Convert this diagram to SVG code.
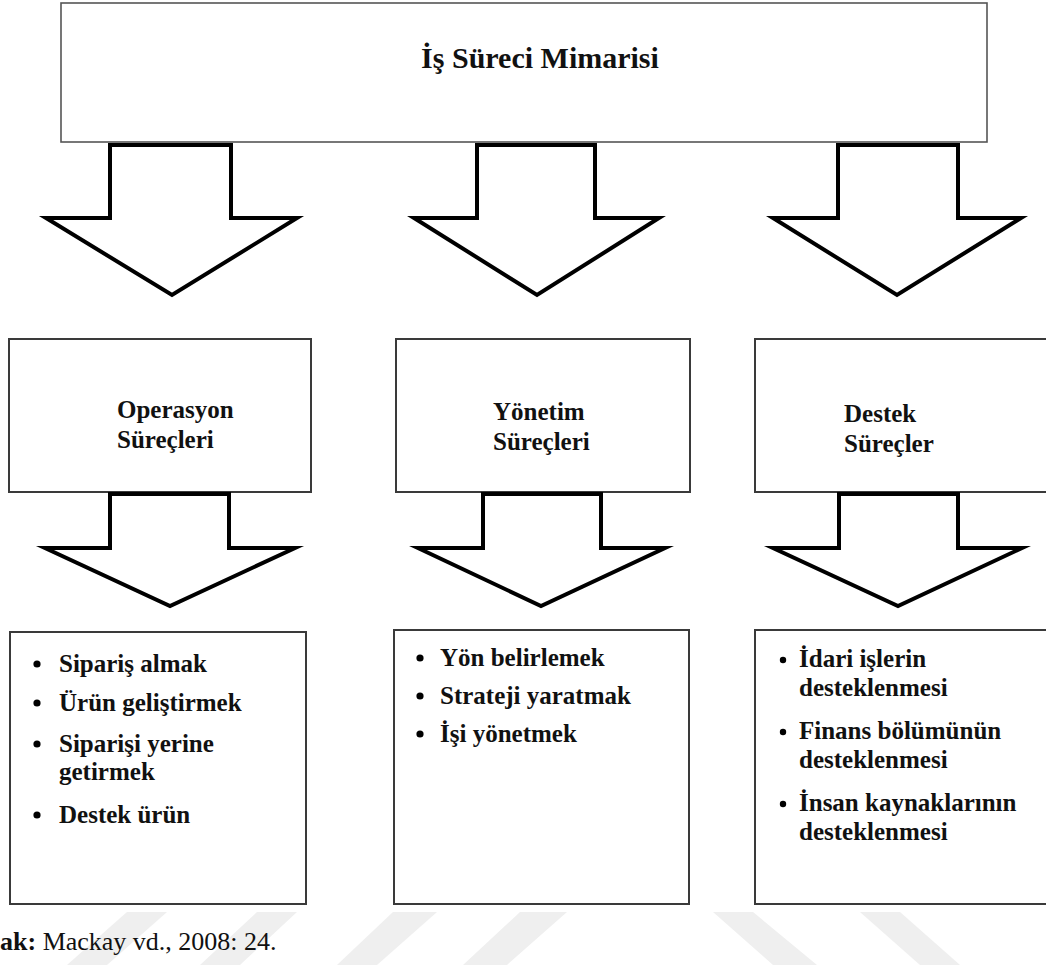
<svg xmlns="http://www.w3.org/2000/svg" width="1046" height="969" viewBox="0 0 1046 969">
  <style>
    .box { fill: #ffffff; stroke: #3a3a3a; stroke-width: 2; }
    .top { fill: #ffffff; stroke: #555555; stroke-width: 1.6; }
    .arrow { fill: #ffffff; stroke: #000000; stroke-width: 4; stroke-linejoin: miter; stroke-miterlimit: 10; }
    .t { font-family: "Liberation Serif", "Times New Roman", serif; font-weight: bold; fill: #111111; }
    .title { font-size: 30px; }
    .head { font-size: 25px; }
    .item { font-size: 25px; }
    .src { font-family: "Liberation Serif", "Times New Roman", serif; font-size: 26px; fill: #111111; }
    .dot { fill: #000000; }
    .mark { fill: #efefef; }
  </style>

  <rect width="1046" height="969" fill="#ffffff"/>

  <!-- light background stripes along the bottom edge -->
  <g id="stripes">
    <polygon class="mark" points="127,912 167,912 107,965 67,965"/>
    <polygon class="mark" points="257,912 297,912 240,965 200,965"/>
    <polygon class="mark" points="393,912 437,912 377,965 337,965"/>
    <polygon class="mark" points="520,912 567,912 507,965 463,965"/>
    <polygon class="mark" points="713,912 753,912 817,965 773,965"/>
    <polygon class="mark" points="860,912 900,912 960,965 920,965"/>
  </g>

  <!-- root node -->
  <g id="node-architecture">
    <rect class="top" x="61" y="3" width="926" height="139"/>
    <text class="t title" x="540" y="68" text-anchor="middle">İş Süreci Mimarisi</text>
  </g>

  <!-- process category nodes -->
  <g id="node-operations">
    <rect class="box" x="9" y="339" width="302" height="153"/>
    <text class="t head" x="117" y="418">Operasyon</text>
    <text class="t head" x="117" y="448">Süreçleri</text>
  </g>
  <g id="node-management">
    <rect class="box" x="396" y="339" width="294" height="153"/>
    <text class="t head" x="493" y="420">Yönetim</text>
    <text class="t head" x="493" y="450">Süreçleri</text>
  </g>
  <g id="node-support">
    <rect class="box" x="755" y="339" width="300" height="153"/>
    <text class="t head" x="844" y="422">Destek</text>
    <text class="t head" x="844" y="452">Süreçler</text>
  </g>

  <!-- activity list nodes -->
  <g id="node-operations-list">
    <rect class="box" x="10" y="632" width="296" height="272"/>
    <circle class="dot" cx="37" cy="664" r="3.6"/>
    <text class="t item" x="59" y="672">Sipariş almak</text>
    <circle class="dot" cx="37" cy="703" r="3.6"/>
    <text class="t item" x="59" y="711">Ürün geliştirmek</text>
    <circle class="dot" cx="37" cy="744" r="3.6"/>
    <text class="t item" x="59" y="752">Siparişi yerine</text>
    <text class="t item" x="59" y="780">getirmek</text>
    <circle class="dot" cx="37" cy="815" r="3.6"/>
    <text class="t item" x="59" y="823">Destek ürün</text>
  </g>
  <g id="node-management-list">
    <rect class="box" x="394" y="630" width="295" height="274"/>
    <circle class="dot" cx="420" cy="658" r="3.6"/>
    <text class="t item" x="440" y="666">Yön belirlemek</text>
    <circle class="dot" cx="420" cy="696" r="3.6"/>
    <text class="t item" x="440" y="704">Strateji yaratmak</text>
    <circle class="dot" cx="420" cy="734" r="3.6"/>
    <text class="t item" x="440" y="742">İşi yönetmek</text>
  </g>
  <g id="node-support-list">
    <rect class="box" x="755" y="630" width="300" height="274"/>
    <circle class="dot" cx="783" cy="660" r="3.2"/>
    <text class="t item" x="799" y="667">İdari işlerin</text>
    <text class="t item" x="799" y="696">desteklenmesi</text>
    <circle class="dot" cx="783" cy="732" r="3.2"/>
    <text class="t item" x="799" y="739">Finans bölümünün</text>
    <text class="t item" x="799" y="768">desteklenmesi</text>
    <circle class="dot" cx="783" cy="804" r="3.2"/>
    <text class="t item" x="799" y="811">İnsan kaynaklarının</text>
    <text class="t item" x="799" y="840">desteklenmesi</text>
  </g>

  <!-- block arrows linking the levels -->
  <g id="connectors">
    <path class="arrow" d="M110,145 H231 V218 H297 L172,295 L46,218 H110 Z"/>
    <path class="arrow" d="M477,145 H595 V218 H659 L537,295 L414,218 H477 Z"/>
    <path class="arrow" d="M838,145 H958 V218 H1021 L897,295 L773,218 H838 Z"/>
    <path class="arrow" d="M110,494 H229 V548 H295 L170,606 L45,548 H110 Z"/>
    <path class="arrow" d="M483,494 H601 V548 H665 L541,606 L418,548 H483 Z"/>
    <path class="arrow" d="M839,494 H958 V548 H1022 L898,606 L773,548 H839 Z"/>
  </g>

  <!-- source line -->
  <g id="source">
    <text class="src" x="0" y="950"><tspan font-weight="bold">ak:</tspan> Mackay vd., 2008: 24.</text>
  </g>
</svg>
